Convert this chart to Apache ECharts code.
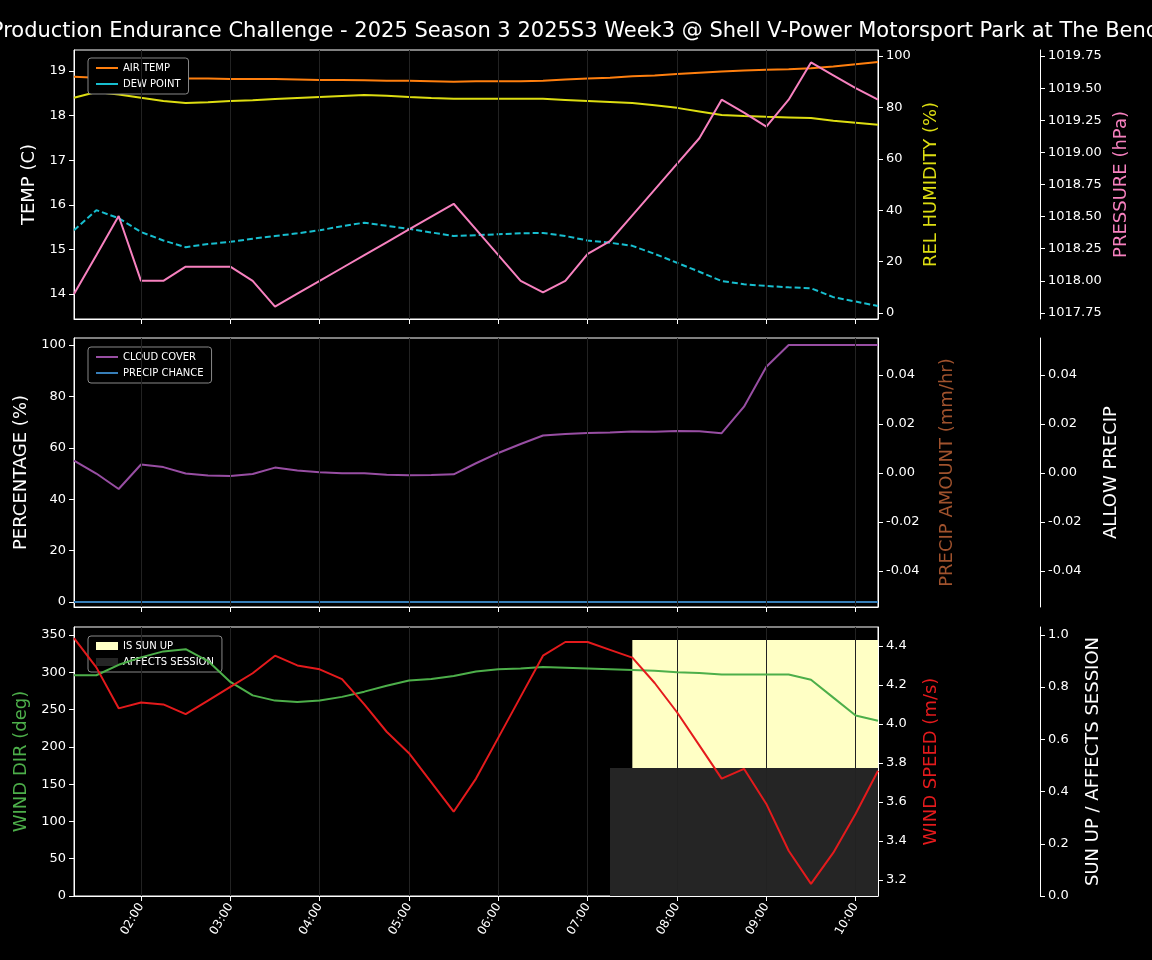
<!DOCTYPE html>
<html><head><meta charset="utf-8">
<script src="https://cdn.jsdelivr.net/npm/echarts@6/dist/echarts.min.js"></script>
<style>html,body{margin:0;background:#000}#c{width:1152px;height:960px}</style>
</head><body><div id="c"></div>
<script>
const times = [1.25,1.5,1.75,2,2.25,2.5,2.75,3,3.25,3.5,3.75,4,4.25,4.5,4.75,5,5.25,5.5,5.75,6,6.25,6.5,6.75,7,7.25,7.5,7.75,8,8.25,8.5,8.75,9,9.25,9.5,9.75,10,10.25];
const airTemp = [18.87,18.85,18.84,18.84,18.84,18.83,18.83,18.82,18.82,18.82,18.81,18.80,18.80,18.79,18.78,18.78,18.77,18.76,18.77,18.77,18.77,18.78,18.81,18.83,18.85,18.88,18.90,18.93,18.96,18.99,19.01,19.03,19.04,19.06,19.10,19.15,19.20];
const dewPoint = [15.43,15.88,15.70,15.39,15.20,15.05,15.12,15.17,15.24,15.30,15.36,15.43,15.52,15.60,15.53,15.46,15.38,15.30,15.32,15.34,15.36,15.37,15.30,15.20,15.15,15.08,14.90,14.70,14.50,14.29,14.22,14.18,14.15,14.13,13.93,13.83,13.73];
const humidity = [83.7,86.0,85.0,83.7,82.5,81.7,82.0,82.5,82.8,83.2,83.6,84.0,84.4,84.8,84.5,84.0,83.6,83.3,83.3,83.3,83.3,83.3,82.9,82.5,82.1,81.7,80.8,79.8,78.4,77.0,76.6,76.3,76.1,75.9,74.8,74.0,73.2];
const pressure = [1017.898,1018.20,1018.505,1018.0,1018.0,1018.11,1018.11,1018.11,1018.0,1017.80,1017.90,1018.00,1018.10,1018.20,1018.30,1018.40,1018.50,1018.60,1018.40,1018.20,1018.0,1017.91,1018.0,1018.21,1018.31,1018.51,1018.71,1018.91,1019.11,1019.41,1019.31,1019.20,1019.41,1019.70,1019.60,1019.50,1019.41];
const cloudCover = [55,50,44,53.5,52.5,50,49.2,49,49.8,52.3,51.2,50.5,50.1,50.1,49.5,49.3,49.4,49.7,54,58,61.5,64.8,65.4,65.8,66,66.3,66.2,66.5,66.4,65.7,76,91.5,100,100,100,100,100];
const precipChance = [0,0,0,0,0,0,0,0,0,0,0,0,0,0,0,0,0,0,0,0,0,0,0,0,0,0,0,0,0,0,0,0,0,0,0,0,0];
const windDir = [296,296,310,320,328,331,315,287,269,262,260,262,267,274,282,289,291,295,301,304,305,307,306,305,304,303,302,300,299,297,297,297,297,290,266,242,235];
const windSpeed = [4.44,4.29,4.08,4.11,4.10,4.05,4.12,4.19,4.26,4.35,4.30,4.28,4.23,4.10,3.96,3.85,3.70,3.55,3.72,3.93,4.14,4.35,4.42,4.42,4.38,4.34,4.21,4.06,3.89,3.72,3.77,3.59,3.35,3.18,3.34,3.54,3.76];
const sunUp = [[7.5,0.98],[10.25,0.98]];
const affectsSession = [[7.25,0.49],[10.25,0.49]];
const hourTicks = [2,3,4,5,6,7,8,9,10];

const W='#ffffff', F='DejaVu Sans';
const pair = a => times.map((t,i)=>[t,a[i]]);
const range=(a,b,s)=>{const r=[];for(let v=a;v<=b+1e-9;v+=s)r.push(+v.toFixed(4));return r;};
function xAx(i,lab){return {type:'value',gridIndex:i,min:1.25,max:10.25,
 axisLine:{onZero:false,lineStyle:{color:W}},splitLine:{show:false},
 axisTick:{show:true,customValues:hourTicks,lineStyle:{color:W}},
 axisLabel:{show:lab,customValues:hourTicks,color:W,fontFamily:F,fontSize:12,rotate:60,
  formatter:v=>String(Math.round(v)).padStart(2,'0')+':00'}};}
function yAx(i,pos,off,min,max,ticks,name,col,gap,fmt){return {type:'value',gridIndex:i,position:pos,offset:off,min,max,
 name,nameLocation:'middle',nameGap:gap,nameTextStyle:{color:col,fontSize:18,fontFamily:F},
 axisLine:{show:true,onZero:false,lineStyle:{color:W}},splitLine:{show:false},
 axisTick:{show:true,customValues:ticks,lineStyle:{color:W}},
 axisLabel:{customValues:ticks,color:W,fontFamily:F,fontSize:13,formatter:fmt||(v=>String(v))}};}
const vlines=i=>({type:'line',xAxisIndex:i,yAxisIndex:i*3,data:[],silent:true,
 markLine:{symbol:'none',label:{show:false},lineStyle:{color:'#222',type:'solid',width:1},data:hourTicks.map(h=>({xAxis:h}))}});
const leg=(top,data,h)=>({top,left:88,orient:'vertical',backgroundColor:'#000',borderColor:'#888',borderWidth:1,borderRadius:3,
 padding:[5,8],itemGap:6,itemWidth:22,itemHeight:h,textStyle:{color:W,fontSize:10,fontFamily:F},data});
const opt={backgroundColor:'#000',animation:false,
 title:{text:'Production Endurance Challenge - 2025 Season 3 2025S3 Week3 @ Shell V-Power Motorsport Park at The Bend',left:570,textAlign:'center',top:16,textStyle:{color:W,fontSize:21,fontWeight:'normal',fontFamily:F}},
 grid:[{left:74,width:804,top:50,height:269,show:true,borderColor:W},
  {left:74,width:804,top:338,height:269,show:true,borderColor:W},
  {left:74,width:804,top:627,height:269,show:true,borderColor:W}],
 legend:[leg(58,[{name:'AIR TEMP',icon:'rect'},{name:'DEW POINT',icon:'rect'}],2),
  leg(347,[{name:'CLOUD COVER',icon:'rect'},{name:'PRECIP CHANCE',icon:'rect'}],2),
  leg(636,[{name:'IS SUN UP',icon:'rect'},{name:'AFFECTS SESSION',icon:'rect'}],8)],
 xAxis:[xAx(0,false),xAx(1,false),xAx(2,true)],
 yAxis:[yAx(0,'left',0,13.44,19.47,range(14,19,1),'TEMP (C)',W,36),
  yAx(0,'right',0,-2.3,102.3,range(0,100,20),'REL HUMIDITY (%)','#dddd11',44),
  yAx(0,'right',162,1017.703,1019.797,range(1017.75,1019.75,0.25),'PRESSURE (hPa)','#f781bf',72,v=>v.toFixed(2)),
  yAx(1,'left',0,-1.9,102.7,range(0,100,20),'PERCENTAGE (%)',W,44),
  yAx(1,'right',0,-0.0547,0.0551,range(-0.04,0.04,0.02),'PRECIP AMOUNT (mm/hr)','#a0522d',60,v=>v.toFixed(2)),
  yAx(1,'right',162,-0.0547,0.0551,range(-0.04,0.04,0.02),'ALLOW PRECIP',W,62,v=>v.toFixed(2)),
  yAx(2,'left',0,0,360.7,range(0,350,50),'WIND DIR (deg)','#4daf4a',44),
  yAx(2,'right',0,3.118,4.497,range(3.2,4.4,0.2),'WIND SPEED (m/s)','#e41a1c',44,v=>v.toFixed(1)),
  yAx(2,'right',162,0,1.03,range(0,1,0.2),'SUN UP / AFFECTS SESSION',W,44,v=>v.toFixed(1))],
 series:[vlines(0),vlines(1),vlines(2),
  {name:'AIR TEMP',type:'line',xAxisIndex:0,yAxisIndex:0,data:pair(airTemp),showSymbol:false,lineStyle:{color:'#ff7f0e',width:2},itemStyle:{color:'#ff7f0e'}},
  {name:'DEW POINT',type:'line',xAxisIndex:0,yAxisIndex:0,data:pair(dewPoint),showSymbol:false,lineStyle:{color:'#17becf',width:2,type:[6,3]},itemStyle:{color:'#17becf'}},
  {name:'REL HUMIDITY',type:'line',xAxisIndex:0,yAxisIndex:1,data:pair(humidity),showSymbol:false,lineStyle:{color:'#dddd11',width:2}},
  {name:'PRESSURE',type:'line',xAxisIndex:0,yAxisIndex:2,data:pair(pressure),showSymbol:false,lineStyle:{color:'#f781bf',width:2}},
  {name:'CLOUD COVER',type:'line',xAxisIndex:1,yAxisIndex:3,data:pair(cloudCover),showSymbol:false,lineStyle:{color:'#984ea3',width:2},itemStyle:{color:'#984ea3'}},
  {name:'PRECIP CHANCE',type:'line',xAxisIndex:1,yAxisIndex:3,data:pair(precipChance),showSymbol:false,lineStyle:{color:'#377eb8',width:2},itemStyle:{color:'#377eb8'}},
  {name:'IS SUN UP',type:'line',xAxisIndex:2,yAxisIndex:8,data:sunUp,showSymbol:false,lineStyle:{width:0},areaStyle:{color:'#ffffc5',opacity:1},itemStyle:{color:'#ffffc5'}},
  {name:'AFFECTS SESSION',type:'line',xAxisIndex:2,yAxisIndex:8,data:affectsSession,showSymbol:false,lineStyle:{width:0},areaStyle:{color:'#252525',opacity:1},itemStyle:{color:'#252525'}},
  {name:'WIND DIR',type:'line',xAxisIndex:2,yAxisIndex:6,data:pair(windDir),showSymbol:false,lineStyle:{color:'#4daf4a',width:2},z:5},
  {name:'WIND SPEED',type:'line',xAxisIndex:2,yAxisIndex:7,data:pair(windSpeed),showSymbol:false,lineStyle:{color:'#e41a1c',width:2},z:5}]};
echarts.init(document.getElementById('c')).setOption(opt);
</script></body></html>
